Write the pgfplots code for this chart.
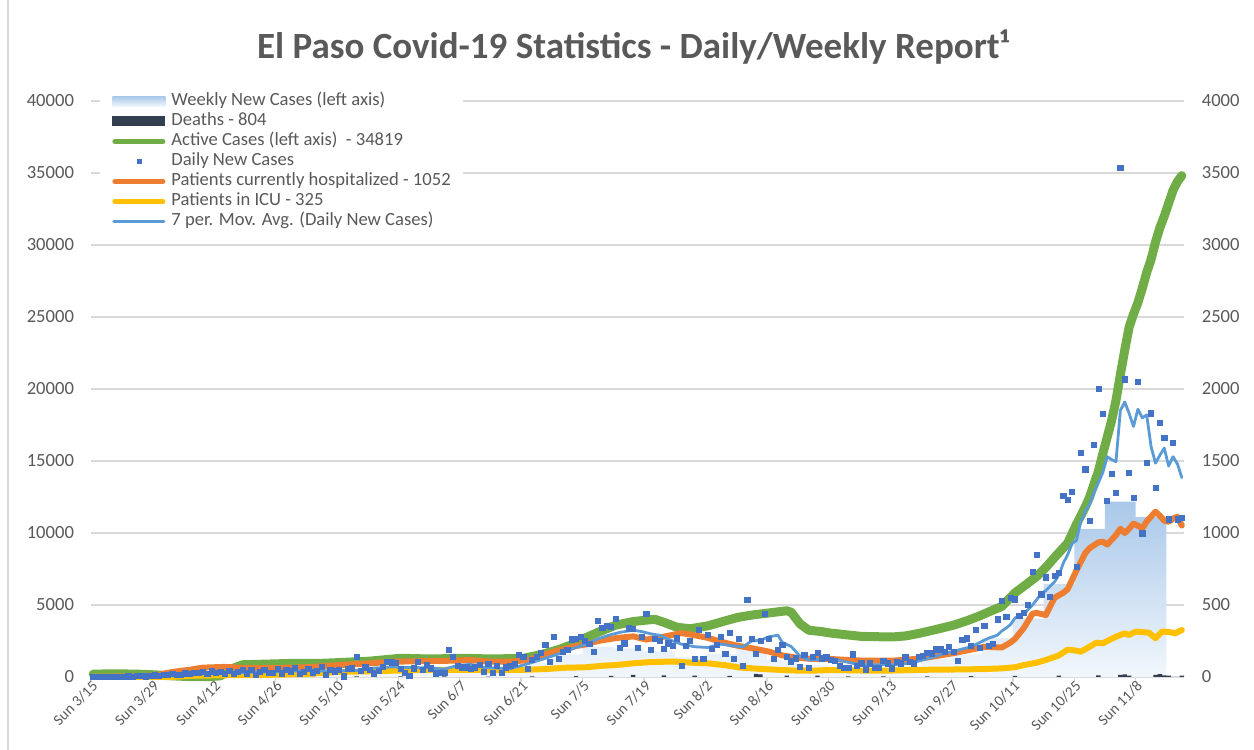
\documentclass[border=0pt]{standalone}
\usepackage{fontspec}
\setmainfont{Carlito}
\usepackage{pgfplots}
\usepackage{pgfplotstable}
\pgfplotsset{compat=1.18}
\definecolor{txtgray}{HTML}{595959}
\definecolor{gridc}{HTML}{D9D9D9}
\definecolor{greenc}{HTML}{70AD47}
\definecolor{orangec}{HTML}{ED7D31}
\definecolor{yellowc}{HTML}{FFC000}
\definecolor{mac}{HTML}{5B9BD5}
\definecolor{markc}{HTML}{4472C4}
\definecolor{deathc}{HTML}{333F50}
\definecolor{wktop}{HTML}{A9C8E9}
\definecolor{wkbot}{HTML}{F2F7FC}

\pgfplotstableread[row sep=\\]{d v\\
0 0\\1 0\\2 1\\3 2\\4 2\\5 3\\6 2\\7 3\\8 5\\9 4\\10 6\\11 8\\12 5\\13 10\\
14 12\\15 10\\16 15\\17 14\\18 20\\19 18\\20 16\\21 25\\22 22\\23 30\\24 28\\25 35\\26 20\\27 40\\
28 30\\29 38\\30 22\\31 45\\32 20\\33 35\\34 48\\35 25\\36 50\\37 18\\38 38\\39 52\\40 30\\41 28\\
42 55\\43 25\\44 48\\45 40\\46 62\\47 22\\48 38\\49 58\\50 32\\51 45\\52 70\\53 18\\54 50\\55 40\\
56 48\\57 5\\58 56\\59 60\\60 141\\61 44\\62 67\\63 50\\64 25\\65 42\\66 72\\67 106\\68 102\\69 100\\
70 56\\71 30\\72 7\\73 60\\74 106\\75 49\\76 83\\77 60\\78 25\\79 30\\80 30\\81 187\\82 141\\83 76\\
84 67\\85 67\\86 56\\87 67\\88 83\\89 37\\90 90\\91 30\\92 76\\93 30\\94 67\\95 76\\96 90\\97 153\\
98 141\\99 56\\100 118\\101 141\\102 169\\103 224\\104 106\\105 280\\106 127\\107 176\\108 190\\109 262\\110 264\\111 280\\
112 252\\113 230\\114 176\\115 391\\116 343\\117 354\\118 350\\119 403\\120 204\\121 234\\122 338\\123 333\\124 204\\125 280\\
126 437\\127 188\\128 264\\129 252\\130 197\\131 234\\132 215\\133 269\\134 76\\135 215\\136 252\\137 127\\138 326\\139 127\\
140 292\\141 194\\142 222\\143 280\\144 160\\145 308\\146 127\\147 264\\148 79\\149 535\\150 264\\151 160\\152 250\\153 437\\
154 264\\155 127\\156 188\\157 222\\158 141\\159 109\\160 130\\161 72\\162 153\\163 65\\164 140\\165 169\\166 130\\167 137\\
168 118\\169 110\\170 78\\171 65\\172 65\\173 157\\174 78\\175 95\\176 53\\177 95\\178 65\\179 65\\180 111\\181 95\\
182 60\\183 106\\184 95\\185 137\\186 106\\187 95\\188 141\\189 146\\190 169\\191 164\\192 192\\193 192\\194 176\\195 211\\
196 176\\197 113\\198 257\\199 269\\200 218\\201 326\\202 204\\203 354\\204 218\\205 229\\206 400\\207 530\\208 419\\209 551\\
210 539\\211 424\\212 447\\213 500\\214 731\\215 847\\216 574\\217 692\\218 558\\219 703\\220 724\\221 1259\\222 1229\\223 1287\\
224 766\\225 1558\\226 1442\\227 1085\\228 1613\\229 2002\\230 1828\\231 1224\\232 1412\\233 1280\\234 3537\\235 2067\\236 1419\\237 1245\\
238 2051\\239 998\\240 1488\\241 1831\\242 1315\\243 1766\\244 1662\\245 1095\\246 1627\\247 1095\\248 1106\\
}\tblDaily

\pgfplotstableread[row sep=\\]{x v\\
3.5 10\\10.5 41\\17.5 105\\24.5 200\\31.5 238\\38.5 241\\45.5 290\\52.5 313\\59.5 421\\66.5 497\\73.5 391\\80.5 549\\
87.5 467\\94.5 522\\101.5 955\\108.5 1579\\115.5 2096\\122.5 1996\\129.5 1787\\136.5 1392\\143.5 1583\\150.5 1989\\
157.5 1181\\164.5 866\\171.5 671\\178.5 579\\185.5 740\\192.5 1250\\199.5 1563\\206.5 2701\\213.5 4062\\220.5 6452\\
227.5 10294\\234.5 12184\\241.5 11111\\
}\tblWeekly

\pgfplotstableread[row sep=\\]{d v\\
0 200\\5 220\\10 200\\14 150\\18 80\\22 30\\26 20\\29 80\\31 500\\34 850\\40 900\\46 950\\52 950\\56 1000\\63 1100\\
70 1300\\77 1250\\84 1300\\91 1250\\98 1300\\102 1550\\106 1900\\110 2350\\112 2700\\115 3100\\119 3600\\123 3850\\
126 3950\\128 4000\\130 3800\\133 3450\\136 3350\\140 3550\\144 3900\\147 4150\\150 4300\\154 4450\\158 4600\\159 4500\\
161 3700\\163 3250\\166 3150\\168 3050\\171 2950\\175 2820\\178 2800\\182 2780\\185 2850\\188 3020\\192 3300\\196 3600\\
199 3900\\202 4250\\205 4650\\207 4900\\210 5850\\212 6300\\215 7000\\217 7600\\219 8300\\222 9300\\224 10600\\226 11800\\
227 12500\\229 14300\\230 15500\\232 17800\\233 19200\\234 21000\\235 22700\\236 24300\\237 25200\\238 26000\\239 27000\\
240 28100\\241 29000\\242 30200\\243 31200\\244 32000\\245 32900\\246 33800\\247 34400\\248 34819\\
}\tblActive

\pgfplotstableread[row sep=\\]{d v\\
0 0\\10 5\\14 10\\18 35\\22 50\\25 65\\30 70\\35 62\\42 62\\49 68\\56 83\\63 95\\68 106\\75 110\\80 112\\86 118\\
90 106\\95 106\\99 118\\102 148\\106 185\\110 215\\112 225\\115 250\\119 270\\123 282\\126 260\\130 280\\134 305\\
137 290\\140 272\\143 245\\146 222\\150 200\\154 176\\157 150\\160 135\\164 125\\168 125\\172 118\\176 113\\182 113\\
188 127\\192 145\\196 166\\200 190\\203 210\\207 205\\209 240\\210 265\\212 340\\214 440\\215 445\\217 430\\219 550\\
221 585\\222 610\\224 740\\226 860\\227 895\\229 935\\230 940\\231 920\\233 985\\234 1030\\235 1000\\236 1030\\
237 1065\\238 1050\\239 1033\\240 1080\\242 1148\\243 1120\\244 1085\\245 1078\\246 1100\\247 1113\\248 1052\\
}\tblHosp

\pgfplotstableread[row sep=\\]{d v\\
0 0\\18 0\\22 8\\30 12\\40 15\\48 20\\52 28\\56 35\\63 40\\70 45\\77 50\\84 50\\91 48\\98 50\\103 55\\108 65\\
112 67\\116 78\\119 83\\123 95\\126 102\\130 106\\133 106\\136 100\\140 95\\144 82\\147 67\\150 60\\154 53\\158 47\\
161 44\\165 45\\168 49\\175 45\\182 45\\189 50\\196 52\\203 55\\207 60\\210 68\\212 83\\215 100\\217 118\\220 150\\
222 190\\223.5 185\\225 176\\227 210\\228.5 238\\230 234\\231 250\\233 280\\235 303\\236 292\\237.5 315\\239 312\\
240.5 308\\242 269\\243.5 315\\245 313\\246.5 303\\248 326\\
}\tblIcu

\pgfplotstableread[row sep=\\]{d v\\
6 1\\10 3\\14 6\\18 11\\22 18\\26 25\\30 33\\34 32\\38 34\\42 36\\46 42\\50 43\\53 42\\56 42\\60 45\\64 62\\68 70\\
72 66\\76 64\\80 55\\83 80\\86 88\\89 66\\92 62\\95 58\\98 83\\101 110\\104 140\\107 170\\110 205\\112 225\\115 265\\
118 295\\120 310\\123 325\\125 315\\127 300\\129 290\\131 262\\134 228\\137 210\\140 205\\143 228\\146 215\\148 210\\
150 250\\152 255\\154 280\\156 290\\157 240\\159 212\\161 145\\163 118\\166 123\\168 125\\170 115\\173 95\\176 85\\
179 85\\182 85\\185 92\\188 110\\191 135\\194 165\\196 178\\198 195\\200 210\\202 240\\204 270\\206 290\\207 320\\
208 340\\209 365\\210 410\\211 425\\212 435\\213 470\\214 500\\215 540\\216 580\\217 600\\218 630\\219 660\\220 710\\
221 790\\222 850\\223 925\\224 950\\225 1080\\226 1150\\227 1200\\228 1280\\229 1350\\230 1420\\231 1530\\232 1510\\
233 1495\\234 1850\\235 1910\\236 1830\\237 1740\\238 1860\\239 1800\\240 1820\\241 1600\\242 1485\\243 1540\\
244 1590\\245 1465\\246 1530\\247 1480\\248 1385\\
}\tblMA

\pgfplotstableread[row sep=\\]{d v\\
20 2\\30 3\\40 4\\50 3\\60 5\\70 4\\80 4\\90 3\\100 5\\110 6\\118 8\\123 14\\130 12\\137 10\\145 8\\151 22\\152 18\\
158 10\\165 9\\172 5\\180 4\\190 5\\200 6\\210 8\\220 10\\229 12\\234 15\\235 18\\236 10\\242 14\\243 20\\244 12\\
245 10\\248 10\\
}\tblDeaths

\begin{document}
\begin{tikzpicture}
\useasboundingbox (-45.5pt,-36.5pt) rectangle (581.5pt,338.5pt);
\begin{axis}[
  at={(0pt,0pt)}, anchor=south west,
  scale only axis, width=546.5pt, height=288pt,
  xmin=0, xmax=249, ymin=0, ymax=40000,
  clip=false,
  axis x line*=bottom, axis y line*=left,
  y axis line style={draw=none},
  x axis line style={draw=gridc, line width=0.75pt},
  xtick={0,14,...,238},
  xticklabels={Sun 3/15,Sun 3/29,Sun 4/12,Sun 4/26,Sun 5/10,Sun 5/24,Sun 6/7,Sun 6/21,Sun 7/5,Sun 7/19,Sun 8/2,Sun 8/16,Sun 8/30,Sun 9/13,Sun 9/27,Sun 10/11,Sun 10/25,Sun 11/8},
  xtick style={draw=gridc, line width=0.75pt},
  tick align=outside, major tick length=2.5pt,
  ytick={0,5000,...,40000},
  ytick style={draw=none},
  scaled y ticks=false,
  /pgf/number format/1000 sep={},
  /pgf/number format/assume math mode=true,
  ymajorgrids, grid style={draw=gridc, line width=0.75pt},
  yticklabel style={font=\fontsize{9.3}{11}\selectfont, text=txtgray, xshift=-2.5pt},
  xticklabel style={font=\fontsize{7.6}{9}\selectfont, text=txtgray, rotate=45, anchor=east, inner sep=0.5pt, xshift=1.5pt, yshift=-2pt},
]
\addplot[ybar, bar width=7, bar shift=0pt, draw=none, top color=wktop, bottom color=wkbot] table[x=x, y=v] {\tblWeekly};
\addplot[greenc, line width=4.5pt, line cap=round, line join=round] table[x expr=\thisrow{d}+0.5, y=v] {\tblActive};
\end{axis}
\begin{axis}[
  at={(0pt,0pt)}, anchor=south west,
  scale only axis, width=546.5pt, height=288pt,
  xmin=0, xmax=249, ymin=0, ymax=4000,
  clip=false,
  axis x line=none, axis y line*=right,
  y axis line style={draw=none},
  ytick={0,500,...,4000}, ytick style={draw=none},
  tick align=outside, major tick length=2.5pt,
  scaled y ticks=false,
  /pgf/number format/1000 sep={},
  /pgf/number format/assume math mode=true,
  yticklabel style={font=\fontsize{9.3}{11}\selectfont, text=txtgray, xshift=2.9pt},
  legend style={at={(0,1)}, anchor=north west, xshift=4.5pt, yshift=6pt, draw=none, fill=white,
    font=\fontsize{9.3}{10}\selectfont, text=txtgray, inner xsep=6pt, inner ysep=1pt,
    row sep=0pt, column sep=3pt, nodes={inner sep=0pt, text height=6.8pt, text depth=3.2pt}},
  legend cell align=left,
]
\addlegendimage{legend image code/.code={\path[draw=none, top color=wktop, bottom color=wkbot] (0pt,-2.5pt) rectangle (26.5pt,2.5pt);}}
\addlegendentry{Weekly New Cases (left axis)}
\addlegendimage{legend image code/.code={\path[draw=none, fill=deathc] (0pt,-2.5pt) rectangle (26.5pt,2.5pt);}}
\addlegendentry{Deaths - 804}
\addlegendimage{legend image code/.code={\draw[greenc, line width=2.5pt, line cap=round] (1.25pt,0pt) -- (25.25pt,0pt);}}
\addlegendentry{Active Cases (left axis)~ - 34819}
\addlegendimage{legend image code/.code={\path[draw=none, fill=none] (0pt,-1pt) rectangle (26.5pt,1pt); \path[draw=none, fill=markc] (12.1pt,-1.4pt) rectangle (14.9pt,1.4pt);}}
\addlegendentry{Daily New Cases}
\addlegendimage{legend image code/.code={\draw[orangec, line width=2.5pt, line cap=round] (1.25pt,0pt) -- (25.25pt,0pt);}}
\addlegendentry{Patients currently hospitalized - 1052}
\addlegendimage{legend image code/.code={\draw[yellowc, line width=2.5pt, line cap=round] (1.25pt,0pt) -- (25.25pt,0pt);}}
\addlegendentry{Patients in ICU - 325}
\addlegendimage{legend image code/.code={\draw[mac, line width=1.5pt, line cap=round] (0.75pt,0pt) -- (25.75pt,0pt);}}
\addlegendentry{7 per. Mov. Avg. (Daily New Cases)}

\addplot[ybar, bar width=1, bar shift=0pt, fill=deathc, draw=none, forget plot] table[x expr=\thisrow{d}+0.5, y=v] {\tblDeaths};
\addplot[orangec, line width=3pt, line cap=round, line join=round, forget plot] table[x expr=\thisrow{d}+0.5, y=v] {\tblHosp};
\addplot[yellowc, line width=3pt, line cap=round, line join=round, forget plot] table[x expr=\thisrow{d}+0.5, y=v] {\tblIcu};
\addplot[mac, line width=1.4pt, line cap=round, line join=round, forget plot] table[x expr=\thisrow{d}+0.5, y=v] {\tblMA};
\addplot[only marks, color=markc, mark=square*, mark size=1.3pt, mark options={color=markc, fill=markc, line width=0.3pt}, forget plot] table[x expr=\thisrow{d}+0.5, y=v] {\tblDaily};
\end{axis}
\node[font=\fontsize{18.5}{22}\selectfont\bfseries, text=txtgray] at (271pt,315pt) {El Paso Covid-19 Statistics - Daily/Weekly Report¹};
\draw[gridc, line width=0.75pt] (-41.5pt,-36.5pt) -- (-41.5pt,338.5pt);
\end{tikzpicture}
\end{document}
